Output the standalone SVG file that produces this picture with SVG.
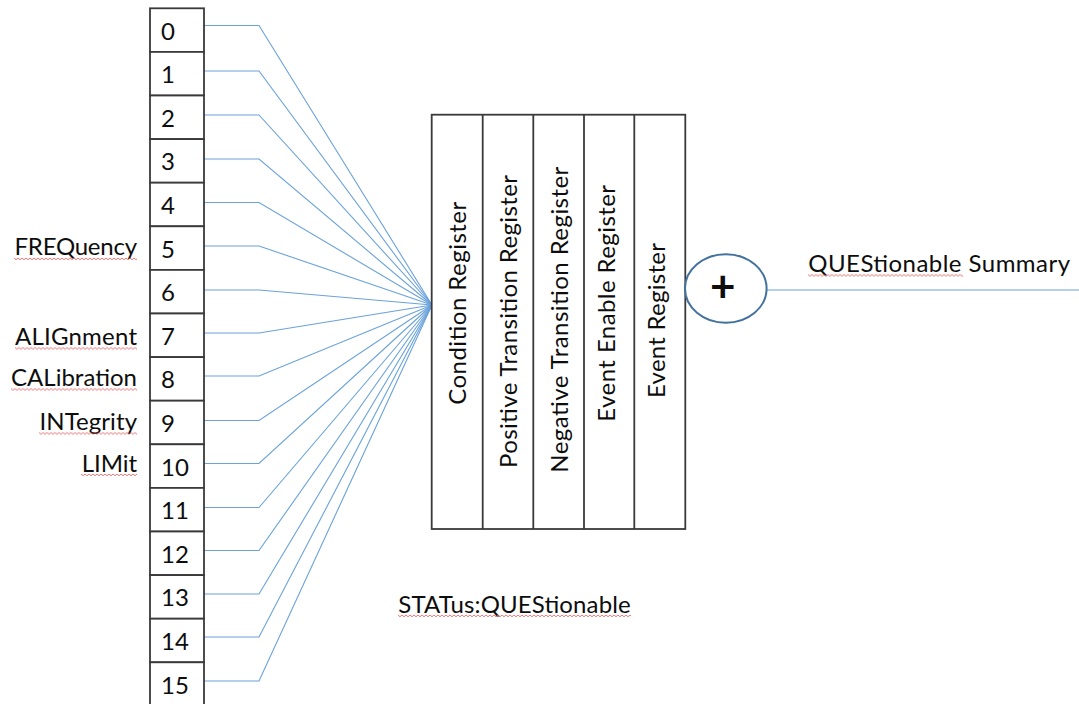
<svg xmlns="http://www.w3.org/2000/svg" width="1079" height="704" viewBox="0 0 1079 704">
  <defs>
    <style>
      .txt { font-family: Lato, "Open Sans", "Liberation Sans", sans-serif; font-size: 24px; fill: #0d0d0d; }
      .bit rect, .reg rect, .reg line { fill: #fff; stroke: #3a3a3a; stroke-width: 1.8; }
      .reg line { fill: none; }
      .wire { fill: none; stroke: #6aa2da; stroke-width: 1.1; }
      .sum ellipse { fill: #fff; stroke: #41719c; stroke-width: 2; }
    </style>
    <!-- spell-check style wavy underline -->
    <pattern id="squiggle" patternUnits="userSpaceOnUse" x="0" y="0" width="4" height="4">
      <path d="M0,0.8 L2,2.8 L4,0.8" fill="none" stroke="#e8504f" stroke-width="0.9"/>
    </pattern>
  </defs>

  <rect width="1079" height="704" fill="#fff"/>

  <!-- connectors: each bit feeds the condition register -->
  <g id="connectors">
    <polyline class="wire" points="204,25.5 259,25.5 432,305"/>
    <polyline class="wire" points="204,71 259,71 432,305"/>
    <polyline class="wire" points="204,115 259,115 432,305"/>
    <polyline class="wire" points="204,159 259,159 432,305"/>
    <polyline class="wire" points="204,202.5 259,202.5 432,305"/>
    <polyline class="wire" points="204,246 259,246 432,305"/>
    <polyline class="wire" points="204,290 259,290 432,305"/>
    <polyline class="wire" points="204,333 259,333 432,305"/>
    <polyline class="wire" points="204,376 259,376 432,305"/>
    <polyline class="wire" points="204,420.5 259,420.5 432,305"/>
    <polyline class="wire" points="204,463.5 259,463.5 432,305"/>
    <polyline class="wire" points="204,507.5 259,507.5 432,305"/>
    <polyline class="wire" points="204,550.5 259,550.5 432,305"/>
    <polyline class="wire" points="204,594 259,594 432,305"/>
    <polyline class="wire" points="204,637 259,637 432,305"/>
    <polyline class="wire" points="204,681 259,681 432,305"/>
    <line class="wire" x1="766.6" y1="290" x2="1079" y2="290"/>
  </g>

  <!-- bit column -->
  <g id="bit0" class="bit"><rect x="150" y="8.3" width="54" height="43.6"/><text class="txt" x="161" y="39.5">0</text></g>
  <g id="bit1" class="bit"><rect x="150" y="51.9" width="54" height="43.6"/><text class="txt" x="161" y="83.1">1</text></g>
  <g id="bit2" class="bit"><rect x="150" y="95.5" width="54" height="43.6"/><text class="txt" x="161" y="126.7">2</text></g>
  <g id="bit3" class="bit"><rect x="150" y="139.1" width="54" height="43.6"/><text class="txt" x="161" y="170.3">3</text></g>
  <g id="bit4" class="bit"><rect x="150" y="182.7" width="54" height="43.6"/><text class="txt" x="161" y="213.9">4</text></g>
  <g id="bit5" class="bit"><rect x="150" y="226.3" width="54" height="43.6"/><text class="txt" x="161" y="257.5">5</text></g>
  <g id="bit6" class="bit"><rect x="150" y="269.9" width="54" height="43.6"/><text class="txt" x="161" y="301.1">6</text></g>
  <g id="bit7" class="bit"><rect x="150" y="313.5" width="54" height="43.6"/><text class="txt" x="161" y="344.7">7</text></g>
  <g id="bit8" class="bit"><rect x="150" y="357.1" width="54" height="43.6"/><text class="txt" x="161" y="388.3">8</text></g>
  <g id="bit9" class="bit"><rect x="150" y="400.7" width="54" height="43.6"/><text class="txt" x="161" y="431.9">9</text></g>
  <g id="bit10" class="bit"><rect x="150" y="444.3" width="54" height="43.6"/><text class="txt" x="161" y="475.5">10</text></g>
  <g id="bit11" class="bit"><rect x="150" y="487.9" width="54" height="43.6"/><text class="txt" x="161" y="519.1">11</text></g>
  <g id="bit12" class="bit"><rect x="150" y="531.5" width="54" height="43.6"/><text class="txt" x="161" y="562.7">12</text></g>
  <g id="bit13" class="bit"><rect x="150" y="575.1" width="54" height="43.6"/><text class="txt" x="161" y="606.3">13</text></g>
  <g id="bit14" class="bit"><rect x="150" y="618.7" width="54" height="43.6"/><text class="txt" x="161" y="649.9">14</text></g>
  <g id="bit15" class="bit"><rect x="150" y="662.3" width="54" height="43.6"/><text class="txt" x="161" y="693.5">15</text></g>

  <!-- bit names -->
  <g id="bit-names">
    <text class="txt" x="137" y="255" text-anchor="end" textLength="122.5">FREQuency</text>
    <g transform="translate(14,257)"><rect width="123" height="4" fill="url(#squiggle)"/></g>
    <text class="txt" x="137" y="345.3" text-anchor="end" textLength="122">ALIGnment</text>
    <g transform="translate(15,346.5)"><rect width="122" height="4" fill="url(#squiggle)"/></g>
    <text class="txt" x="137" y="386" text-anchor="end" textLength="126">CALibration</text>
    <g transform="translate(11,387.5)"><rect width="126" height="4" fill="url(#squiggle)"/></g>
    <text class="txt" x="137" y="430" text-anchor="end" textLength="97.5">INTegrity</text>
    <g transform="translate(39,431.5)"><rect width="98" height="4" fill="url(#squiggle)"/></g>
    <text class="txt" x="137" y="471.7" text-anchor="end" textLength="55.3">LIMit</text>
    <g transform="translate(81,473)"><rect width="56" height="4" fill="url(#squiggle)"/></g>
  </g>

  <!-- register stack -->
  <g id="register" class="reg">
    <rect x="431.7" y="114.7" width="253.6" height="414.3"/>
    <line x1="482.7" y1="114.7" x2="482.7" y2="529"/>
    <line x1="533.3" y1="114.7" x2="533.3" y2="529"/>
    <line x1="584" y1="114.7" x2="584" y2="529"/>
    <line x1="634.3" y1="114.7" x2="634.3" y2="529"/>
    <text class="txt" transform="translate(465.5,303.3) rotate(-90)" text-anchor="middle" textLength="203">Condition Register</text>
    <text class="txt" transform="translate(517.3,321.5) rotate(-90)" text-anchor="middle" textLength="293">Positive Transition Register</text>
    <text class="txt" transform="translate(568.3,319.7) rotate(-90)" text-anchor="middle" textLength="306">Negative Transition Register</text>
    <text class="txt" transform="translate(615,303.3) rotate(-90)" text-anchor="middle" textLength="236.7">Event Enable Register</text>
    <text class="txt" transform="translate(665,320.5) rotate(-90)" text-anchor="middle" textLength="155">Event Register</text>
  </g>

  <!-- summing node -->
  <g id="summary-or" class="sum">
    <ellipse cx="725.8" cy="288.5" rx="40.8" ry="34.2"/>
    <text class="txt" x="722.8" y="301.5" text-anchor="middle" style="font-size:44px;font-weight:bold">+</text>
  </g>

  <!-- output label -->
  <g id="summary-label">
    <text class="txt" x="808.3" y="272" textLength="261.7">QUEStionable Summary</text>
    <g transform="translate(808,273.5)"><rect width="155" height="4" fill="url(#squiggle)"/></g>
  </g>

  <!-- register name -->
  <g id="register-name">
    <text class="txt" x="398.3" y="613" textLength="232.4">STATus:QUEStionable</text>
    <g transform="translate(398,614)"><rect width="233" height="4" fill="url(#squiggle)"/></g>
  </g>
</svg>
